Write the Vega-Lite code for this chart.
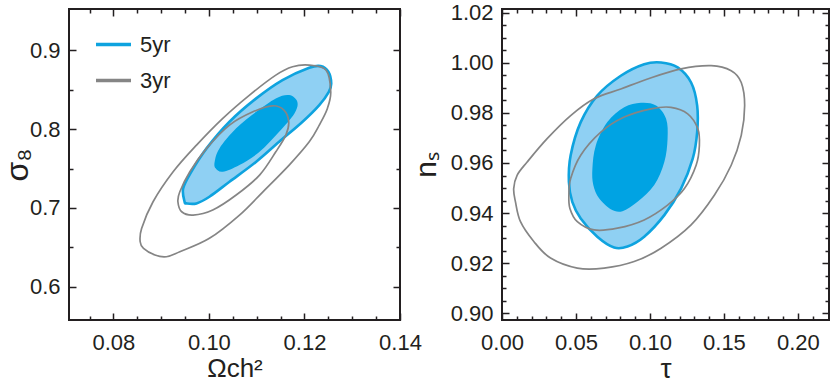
{
  "$schema": "https://vega.github.io/schema/vega-lite/v6.json",
  "background": "white",
  "padding": {"left": 0, "top": 0, "right": 0, "bottom": 0},
  "spacing": 102,
  "bounds": "flush",
  "datasets": {
    "L": [
      {"s":"5yr","k":"o","i":0,"x":0.0949,"y":0.7079},{"s":"5yr","k":"o","i":1,"x":0.0946,"y":0.7248},{"s":"5yr","k":"o","i":2,"x":0.0963,"y":0.7459},{"s":"5yr","k":"o","i":3,"x":0.0995,"y":0.7755},{"s":"5yr","k":"o","i":4,"x":0.1043,"y":0.8093},{"s":"5yr","k":"o","i":5,"x":0.1099,"y":0.8389},{"s":"5yr","k":"o","i":6,"x":0.1154,"y":0.8621},{"s":"5yr","k":"o","i":7,"x":0.1210,"y":0.8777},{"s":"5yr","k":"o","i":8,"x":0.1234,"y":0.8798},{"s":"5yr","k":"o","i":9,"x":0.1250,"y":0.8726},{"s":"5yr","k":"o","i":10,"x":0.1256,"y":0.8579},{"s":"5yr","k":"o","i":11,"x":0.1251,"y":0.8473},{"s":"5yr","k":"o","i":12,"x":0.1231,"y":0.8304},{"s":"5yr","k":"o","i":13,"x":0.1196,"y":0.8093},{"s":"5yr","k":"o","i":14,"x":0.1147,"y":0.7839},{"s":"5yr","k":"o","i":15,"x":0.1099,"y":0.7586},{"s":"5yr","k":"o","i":16,"x":0.1043,"y":0.7332},{"s":"5yr","k":"o","i":17,"x":0.1001,"y":0.7142},{"s":"5yr","k":"o","i":18,"x":0.0974,"y":0.7058},{"s":"5yr","k":"o","i":19,"x":0.0953,"y":0.7058},
      {"s":"5yr","k":"n","i":0,"x":0.1012,"y":0.7586},{"s":"5yr","k":"n","i":1,"x":0.1022,"y":0.7755},{"s":"5yr","k":"n","i":2,"x":0.1057,"y":0.8009},{"s":"5yr","k":"n","i":3,"x":0.1099,"y":0.8219},{"s":"5yr","k":"n","i":4,"x":0.1140,"y":0.8389},{"s":"5yr","k":"n","i":5,"x":0.1168,"y":0.8431},{"s":"5yr","k":"n","i":6,"x":0.1185,"y":0.8346},{"s":"5yr","k":"n","i":7,"x":0.1179,"y":0.8199},{"s":"5yr","k":"n","i":8,"x":0.1147,"y":0.7966},{"s":"5yr","k":"n","i":9,"x":0.1106,"y":0.7712},{"s":"5yr","k":"n","i":10,"x":0.1064,"y":0.7544},{"s":"5yr","k":"n","i":11,"x":0.1029,"y":0.7459},{"s":"5yr","k":"n","i":12,"x":0.1014,"y":0.7502},
      {"s":"3yr","k":"o","i":0,"x":0.0856,"y":0.6572},{"s":"3yr","k":"o","i":1,"x":0.0859,"y":0.6741},{"s":"3yr","k":"o","i":2,"x":0.0883,"y":0.7079},{"s":"3yr","k":"o","i":3,"x":0.0925,"y":0.7459},{"s":"3yr","k":"o","i":4,"x":0.0974,"y":0.7797},{"s":"3yr","k":"o","i":5,"x":0.1029,"y":0.8136},{"s":"3yr","k":"o","i":6,"x":0.1085,"y":0.8431},{"s":"3yr","k":"o","i":7,"x":0.1140,"y":0.8684},{"s":"3yr","k":"o","i":8,"x":0.1175,"y":0.8790},{"s":"3yr","k":"o","i":9,"x":0.1210,"y":0.8811},{"s":"3yr","k":"o","i":10,"x":0.1245,"y":0.8748},{"s":"3yr","k":"o","i":11,"x":0.1255,"y":0.8473},{"s":"3yr","k":"o","i":12,"x":0.1248,"y":0.8262},{"s":"3yr","k":"o","i":13,"x":0.1231,"y":0.8051},{"s":"3yr","k":"o","i":14,"x":0.1210,"y":0.7839},{"s":"3yr","k":"o","i":15,"x":0.1168,"y":0.7544},{"s":"3yr","k":"o","i":16,"x":0.1113,"y":0.7205},{"s":"3yr","k":"o","i":17,"x":0.1064,"y":0.6910},{"s":"3yr","k":"o","i":18,"x":0.1001,"y":0.6615},{"s":"3yr","k":"o","i":19,"x":0.0939,"y":0.6445},{"s":"3yr","k":"o","i":20,"x":0.0911,"y":0.6382},{"s":"3yr","k":"o","i":21,"x":0.0887,"y":0.6403},{"s":"3yr","k":"o","i":22,"x":0.0863,"y":0.6488},
      {"s":"3yr","k":"n","i":0,"x":0.0935,"y":0.7079},{"s":"3yr","k":"n","i":1,"x":0.0939,"y":0.7205},{"s":"3yr","k":"n","i":2,"x":0.0960,"y":0.7459},{"s":"3yr","k":"n","i":3,"x":0.0995,"y":0.7755},{"s":"3yr","k":"n","i":4,"x":0.1043,"y":0.8051},{"s":"3yr","k":"n","i":5,"x":0.1092,"y":0.8219},{"s":"3yr","k":"n","i":6,"x":0.1133,"y":0.8295},{"s":"3yr","k":"n","i":7,"x":0.1157,"y":0.8241},{"s":"3yr","k":"n","i":8,"x":0.1167,"y":0.8093},{"s":"3yr","k":"n","i":9,"x":0.1161,"y":0.7924},{"s":"3yr","k":"n","i":10,"x":0.1140,"y":0.7712},{"s":"3yr","k":"n","i":11,"x":0.1106,"y":0.7417},{"s":"3yr","k":"n","i":12,"x":0.1057,"y":0.7164},{"s":"3yr","k":"n","i":13,"x":0.1008,"y":0.6974},{"s":"3yr","k":"n","i":14,"x":0.0967,"y":0.6910},{"s":"3yr","k":"n","i":15,"x":0.0943,"y":0.6952}
    ],
    "R": [
      {"s":"5yr","k":"o","i":0,"x":0.0452,"y":0.9525},{"s":"5yr","k":"o","i":1,"x":0.0464,"y":0.9631},{"s":"5yr","k":"o","i":2,"x":0.0532,"y":0.9763},{"s":"5yr","k":"o","i":3,"x":0.0644,"y":0.9869},{"s":"5yr","k":"o","i":4,"x":0.0803,"y":0.9948},{"s":"5yr","k":"o","i":5,"x":0.0961,"y":0.9994},{"s":"5yr","k":"o","i":6,"x":0.1075,"y":1.0001},{"s":"5yr","k":"o","i":7,"x":0.1187,"y":0.9981},{"s":"5yr","k":"o","i":8,"x":0.1278,"y":0.9921},{"s":"5yr","k":"o","i":9,"x":0.1319,"y":0.9829},{"s":"5yr","k":"o","i":10,"x":0.1319,"y":0.9723},{"s":"5yr","k":"o","i":11,"x":0.1289,"y":0.9617},{"s":"5yr","k":"o","i":12,"x":0.1210,"y":0.9498},{"s":"5yr","k":"o","i":13,"x":0.1097,"y":0.9392},{"s":"5yr","k":"o","i":14,"x":0.0961,"y":0.9306},{"s":"5yr","k":"o","i":15,"x":0.0848,"y":0.9267},{"s":"5yr","k":"o","i":16,"x":0.0758,"y":0.9263},{"s":"5yr","k":"o","i":17,"x":0.0644,"y":0.9306},{"s":"5yr","k":"o","i":18,"x":0.0532,"y":0.9379},{"s":"5yr","k":"o","i":19,"x":0.0475,"y":0.9445},
      {"s":"5yr","k":"n","i":0,"x":0.0611,"y":0.9578},{"s":"5yr","k":"n","i":1,"x":0.0634,"y":0.9670},{"s":"5yr","k":"n","i":2,"x":0.0712,"y":0.9763},{"s":"5yr","k":"n","i":3,"x":0.0826,"y":0.9822},{"s":"5yr","k":"n","i":4,"x":0.0939,"y":0.9840},{"s":"5yr","k":"n","i":5,"x":0.1041,"y":0.9829},{"s":"5yr","k":"n","i":6,"x":0.1109,"y":0.9776},{"s":"5yr","k":"n","i":7,"x":0.1119,"y":0.9697},{"s":"5yr","k":"n","i":8,"x":0.1097,"y":0.9604},{"s":"5yr","k":"n","i":9,"x":0.1029,"y":0.9512},{"s":"5yr","k":"n","i":10,"x":0.0916,"y":0.9445},{"s":"5yr","k":"n","i":11,"x":0.0814,"y":0.9408},{"s":"5yr","k":"n","i":12,"x":0.0735,"y":0.9416},{"s":"5yr","k":"n","i":13,"x":0.0656,"y":0.9459},{"s":"5yr","k":"n","i":14,"x":0.0617,"y":0.9512},
      {"s":"3yr","k":"o","i":0,"x":0.0091,"y":0.9445},{"s":"3yr","k":"o","i":1,"x":0.0079,"y":0.9498},{"s":"3yr","k":"o","i":2,"x":0.0102,"y":0.9551},{"s":"3yr","k":"o","i":3,"x":0.0170,"y":0.9604},{"s":"3yr","k":"o","i":4,"x":0.0305,"y":0.9697},{"s":"3yr","k":"o","i":5,"x":0.0464,"y":0.9789},{"s":"3yr","k":"o","i":6,"x":0.0622,"y":0.9856},{"s":"3yr","k":"o","i":7,"x":0.0803,"y":0.9895},{"s":"3yr","k":"o","i":8,"x":0.0984,"y":0.9935},{"s":"3yr","k":"o","i":9,"x":0.1210,"y":0.9975},{"s":"3yr","k":"o","i":10,"x":0.1414,"y":0.9988},{"s":"3yr","k":"o","i":11,"x":0.1549,"y":0.9968},{"s":"3yr","k":"o","i":12,"x":0.1617,"y":0.9921},{"s":"3yr","k":"o","i":13,"x":0.1640,"y":0.9829},{"s":"3yr","k":"o","i":14,"x":0.1617,"y":0.9710},{"s":"3yr","k":"o","i":15,"x":0.1549,"y":0.9591},{"s":"3yr","k":"o","i":16,"x":0.1436,"y":0.9472},{"s":"3yr","k":"o","i":17,"x":0.1278,"y":0.9353},{"s":"3yr","k":"o","i":18,"x":0.1075,"y":0.9260},{"s":"3yr","k":"o","i":19,"x":0.0893,"y":0.9207},{"s":"3yr","k":"o","i":20,"x":0.0690,"y":0.9181},{"s":"3yr","k":"o","i":21,"x":0.0509,"y":0.9181},{"s":"3yr","k":"o","i":22,"x":0.0328,"y":0.9221},{"s":"3yr","k":"o","i":23,"x":0.0215,"y":0.9287},{"s":"3yr","k":"o","i":24,"x":0.0125,"y":0.9366},
      {"s":"3yr","k":"n","i":0,"x":0.0452,"y":0.9472},{"s":"3yr","k":"n","i":1,"x":0.0464,"y":0.9538},{"s":"3yr","k":"n","i":2,"x":0.0532,"y":0.9631},{"s":"3yr","k":"n","i":3,"x":0.0668,"y":0.9723},{"s":"3yr","k":"n","i":4,"x":0.0826,"y":0.9783},{"s":"3yr","k":"n","i":5,"x":0.1007,"y":0.9816},{"s":"3yr","k":"n","i":6,"x":0.1142,"y":0.9822},{"s":"3yr","k":"n","i":7,"x":0.1255,"y":0.9796},{"s":"3yr","k":"n","i":8,"x":0.1323,"y":0.9737},{"s":"3yr","k":"n","i":9,"x":0.1334,"y":0.9670},{"s":"3yr","k":"n","i":10,"x":0.1312,"y":0.9591},{"s":"3yr","k":"n","i":11,"x":0.1233,"y":0.9498},{"s":"3yr","k":"n","i":12,"x":0.1119,"y":0.9432},{"s":"3yr","k":"n","i":13,"x":0.0961,"y":0.9373},{"s":"3yr","k":"n","i":14,"x":0.0780,"y":0.9340},{"s":"3yr","k":"n","i":15,"x":0.0622,"y":0.9333},{"s":"3yr","k":"n","i":16,"x":0.0509,"y":0.9366},{"s":"3yr","k":"n","i":17,"x":0.0459,"y":0.9419}
    ]
  },
  "hconcat": [
    {
      "width": 331, "height": 311,
      "data": {"name": "L"},
      "layer": [
        {
          "transform": [{"filter": "datum.s=='5yr' && datum.k=='o'"}],
          "mark": {"type": "line", "filled": true, "fill": "#8fd0f3", "stroke": "#0ea3df", "strokeWidth": 2.6, "interpolate": "cardinal-closed"},
          "encoding": {
            "x": {"field": "x", "type": "quantitative", "scale": {"domain": [0.0707, 0.14], "nice": false, "zero": false},
              "axis": {"orient": "bottom", "values": [0.08, 0.10, 0.12, 0.14], "format": ".2f", "tickSize": -7, "labelPadding": 19, "title": "Ωch²", "titleFontSize": 26, "titlePadding": 2}},
            "y": {"field": "y", "type": "quantitative", "scale": {"domain": [0.558, 0.9522], "nice": false, "zero": false},
              "axis": {"orient": "left", "values": [0.6, 0.7, 0.8, 0.9], "format": ".1f", "tickSize": -7, "labelPadding": 16, "title": "σ₈", "titleFontSize": 32, "titlePadding": -5}},
            "order": {"field": "i", "type": "quantitative"}
          }
        },
        {
          "transform": [{"filter": "datum.s=='5yr' && datum.k=='n'"}],
          "mark": {"type": "line", "filled": true, "fill": "#00a3e3", "strokeWidth": 0, "interpolate": "cardinal-closed"},
          "encoding": {
            "x": {"field": "x", "type": "quantitative", "axis": {"orient": "top", "values": [0.08, 0.10, 0.12, 0.14], "labels": false, "tickSize": -7, "title": null}},
            "y": {"field": "y", "type": "quantitative", "axis": {"orient": "right", "values": [0.6, 0.7, 0.8, 0.9], "labels": false, "tickSize": -7, "title": null}},
            "order": {"field": "i", "type": "quantitative"}
          }
        },
        {
          "transform": [{"filter": "datum.s=='3yr' && datum.k=='o'"}],
          "mark": {"type": "line", "strokeWidth": 1.7, "interpolate": "cardinal-closed"},
          "encoding": {
            "x": {"field": "x", "type": "quantitative", "axis": {"orient": "bottom", "values": [0.075, 0.085, 0.09, 0.095, 0.105, 0.11, 0.115, 0.125, 0.13, 0.135], "labels": false, "tickSize": -4, "title": null}},
            "y": {"field": "y", "type": "quantitative", "axis": {"orient": "left", "values": [0.65, 0.75, 0.85], "labels": false, "tickSize": -4, "title": null}},
            "stroke": {"field": "s", "type": "nominal", "scale": {"domain": ["5yr", "3yr"], "range": ["#0ea3df", "#858585"]},
              "legend": {"title": null, "orient": "none", "legendX": 25, "legendY": 16, "symbolType": "stroke", "symbolSize": 1225, "symbolStrokeWidth": 3.5, "labelFontSize": 22, "labelFont": "Liberation Sans", "labelColor": "#231f20", "labelOffset": 7, "rowPadding": 5, "padding": 0}},
            "order": {"field": "i", "type": "quantitative"}
          }
        },
        {
          "transform": [{"filter": "datum.s=='3yr' && datum.k=='n'"}],
          "mark": {"type": "line", "strokeWidth": 1.7, "interpolate": "cardinal-closed"},
          "encoding": {
            "x": {"field": "x", "type": "quantitative", "axis": {"orient": "top", "values": [0.075, 0.085, 0.09, 0.095, 0.105, 0.11, 0.115, 0.125, 0.13, 0.135], "labels": false, "tickSize": -4, "title": null}},
            "y": {"field": "y", "type": "quantitative", "axis": {"orient": "right", "values": [0.65, 0.75, 0.85], "labels": false, "tickSize": -4, "title": null}},
            "stroke": {"field": "s", "type": "nominal"},
            "order": {"field": "i", "type": "quantitative"}
          }
        }
      ],
      "resolve": {"axis": {"x": "independent", "y": "independent"}}
    },
    {
      "width": 327, "height": 311,
      "data": {"name": "R"},
      "layer": [
        {
          "transform": [{"filter": "datum.s=='5yr' && datum.k=='o'"}],
          "mark": {"type": "line", "filled": true, "fill": "#8fd0f3", "stroke": "#0ea3df", "strokeWidth": 2.6, "interpolate": "cardinal-closed"},
          "encoding": {
            "x": {"field": "x", "type": "quantitative", "scale": {"domain": [0, 0.221], "nice": false, "zero": false},
              "axis": {"orient": "bottom", "values": [0, 0.05, 0.10, 0.15, 0.20], "format": ".2f", "tickSize": -7, "labelPadding": 19, "title": "τ", "titleFontSize": 28, "titlePadding": 2}},
            "y": {"field": "y", "type": "quantitative", "scale": {"domain": [0.8974, 1.0214], "nice": false, "zero": false},
              "axis": {"orient": "left", "values": [0.90, 0.92, 0.94, 0.96, 0.98, 1.00, 1.02], "format": ".2f", "tickSize": -7, "labelPadding": 16, "title": "nₛ", "titleFontSize": 30, "titlePadding": 9}},
            "order": {"field": "i", "type": "quantitative"}
          }
        },
        {
          "transform": [{"filter": "datum.s=='5yr' && datum.k=='n'"}],
          "mark": {"type": "line", "filled": true, "fill": "#00a3e3", "strokeWidth": 0, "interpolate": "cardinal-closed"},
          "encoding": {
            "x": {"field": "x", "type": "quantitative", "axis": {"orient": "top", "values": [0, 0.05, 0.10, 0.15, 0.20], "labels": false, "tickSize": -7, "title": null}},
            "y": {"field": "y", "type": "quantitative", "axis": {"orient": "right", "values": [0.90, 0.92, 0.94, 0.96, 0.98, 1.00, 1.02], "labels": false, "tickSize": -7, "title": null}},
            "order": {"field": "i", "type": "quantitative"}
          }
        },
        {
          "transform": [{"filter": "datum.s=='3yr' && datum.k=='o'"}],
          "mark": {"type": "line", "stroke": "#858585", "strokeWidth": 1.7, "interpolate": "cardinal-closed"},
          "encoding": {
            "x": {"field": "x", "type": "quantitative", "axis": {"orient": "bottom", "values": [0.01, 0.02, 0.03, 0.04, 0.06, 0.07, 0.08, 0.09, 0.11, 0.12, 0.13, 0.14, 0.16, 0.17, 0.18, 0.19, 0.21], "labels": false, "tickSize": -4, "title": null}},
            "y": {"field": "y", "type": "quantitative", "axis": {"orient": "left", "values": [0.905, 0.91, 0.915, 0.925, 0.93, 0.935, 0.945, 0.95, 0.955, 0.965, 0.97, 0.975, 0.985, 0.99, 0.995, 1.005, 1.01, 1.015], "labels": false, "tickSize": -4, "title": null}},
            "order": {"field": "i", "type": "quantitative"}
          }
        },
        {
          "transform": [{"filter": "datum.s=='3yr' && datum.k=='n'"}],
          "mark": {"type": "line", "stroke": "#858585", "strokeWidth": 1.7, "interpolate": "cardinal-closed"},
          "encoding": {
            "x": {"field": "x", "type": "quantitative", "axis": {"orient": "top", "values": [0.01, 0.02, 0.03, 0.04, 0.06, 0.07, 0.08, 0.09, 0.11, 0.12, 0.13, 0.14, 0.16, 0.17, 0.18, 0.19, 0.21], "labels": false, "tickSize": -4, "title": null}},
            "y": {"field": "y", "type": "quantitative", "axis": {"orient": "right", "values": [0.905, 0.91, 0.915, 0.925, 0.93, 0.935, 0.945, 0.95, 0.955, 0.965, 0.97, 0.975, 0.985, 0.99, 0.995, 1.005, 1.01, 1.015], "labels": false, "tickSize": -4, "title": null}},
            "order": {"field": "i", "type": "quantitative"}
          }
        }
      ],
      "resolve": {"axis": {"x": "independent", "y": "independent"}}
    }
  ],
  "config": {
    "view": {"stroke": "#231f20", "strokeWidth": 2},
    "axis": {"grid": false, "domain": false, "labelFont": "Liberation Sans", "titleFont": "Liberation Sans", "labelFontSize": 22, "labelColor": "#231f20", "titleColor": "#231f20", "titleFontWeight": "normal", "tickColor": "#231f20", "tickWidth": 1.5, "labelFlush": false, "labelOverlap": false}
  }
}
